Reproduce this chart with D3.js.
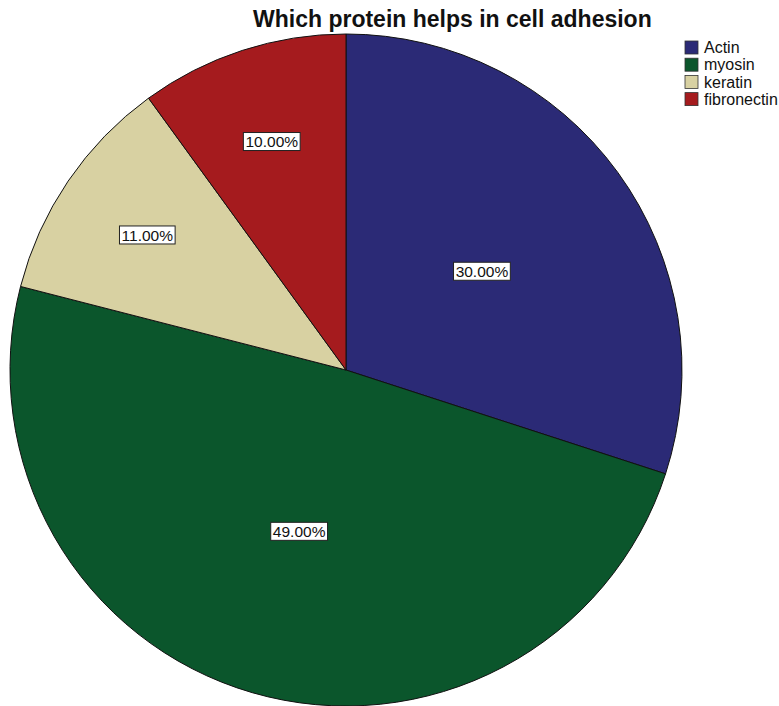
<!DOCTYPE html>
<html>
<head>
<meta charset="utf-8">
<script src="https://cdn.jsdelivr.net/npm/d3@7"></script>
<style>
  html, body { margin: 0; padding: 0; background: #ffffff; }
  svg { display: block; }
</style>
</head>
<body>
<svg id="chart" width="779" height="706"></svg>
<script>
// Responses to "Which protein helps in cell adhesion"
const categories = ["Actin", "myosin", "keratin", "fibronectin"];
const percents = [30, 49, 11, 10];
const colors = ["#2b2a76", "#0b562c", "#d8d1a2", "#a51b1e"];

const svg = d3.select("#chart");
const cx = 346, cy = 370, R = 336;
const FONT = "Liberation Sans, Arial, sans-serif";

svg.append("text")
  .attr("x", 253).attr("y", 27)
  .attr("text-anchor", "start")
  .attr("font-family", FONT)
  .attr("font-weight", "bold")
  .attr("font-size", 23)
  .attr("fill", "#111")
  .text("Which protein helps in cell adhesion");

const data = categories.map((c, i) => ({ name: c, value: percents[i], color: colors[i] }));

const pie = d3.pie().sort(null).value(d => d.value);
const arcs = pie(data);
const arc = d3.arc().innerRadius(0).outerRadius(R);

const g = svg.append("g").attr("transform", `translate(${cx},${cy})`);

g.selectAll("path.slice")
  .data(arcs)
  .join("path")
  .attr("class", "slice")
  .attr("d", arc)
  .attr("fill", d => d.data.color)
  .attr("stroke", "#111")
  .attr("stroke-width", 1);

// Smaller slices carry their labels further out
const fmt = d3.format(".2f");
const labels = g.selectAll("g.lbl")
  .data(arcs)
  .join("g")
  .attr("class", "lbl")
  .attr("transform", d => {
    const f = d.data.value < 20 ? 0.715 : 0.5;
    const c = d3.arc().innerRadius(R * f).outerRadius(R * f).centroid(d);
    return `translate(${c[0]},${c[1]})`;
  });

labels.append("text")
  .attr("text-anchor", "middle")
  .attr("dy", "0.36em")
  .attr("font-family", FONT)
  .attr("font-size", 15.5)
  .attr("fill", "#111")
  .text(d => fmt(d.data.value) + "%");

labels.insert("rect", "text")
  .each(function () {
    const t = d3.select(this.parentNode).select("text").node().getBBox();
    d3.select(this)
      .attr("x", -t.width / 2 - 2).attr("y", -9)
      .attr("width", t.width + 4).attr("height", 18);
  })
  .attr("fill", "#fff")
  .attr("stroke", "#222")
  .attr("stroke-width", 1);

// Legend
const legend = svg.append("g").attr("transform", "translate(685,41)");
const rows = legend.selectAll("g")
  .data(data)
  .join("g")
  .attr("transform", (d, i) => `translate(0,${i * 17.2})`);

rows.append("rect")
  .attr("width", 13).attr("height", 13)
  .attr("fill", d => d.color)
  .attr("stroke", "#333")
  .attr("stroke-width", 0.8);

rows.append("text")
  .attr("x", 19).attr("y", 6.5)
  .attr("dy", "0.36em")
  .attr("font-family", FONT)
  .attr("font-size", 16)
  .attr("fill", "#111")
  .text(d => d.name);
</script>
</body>
</html>
